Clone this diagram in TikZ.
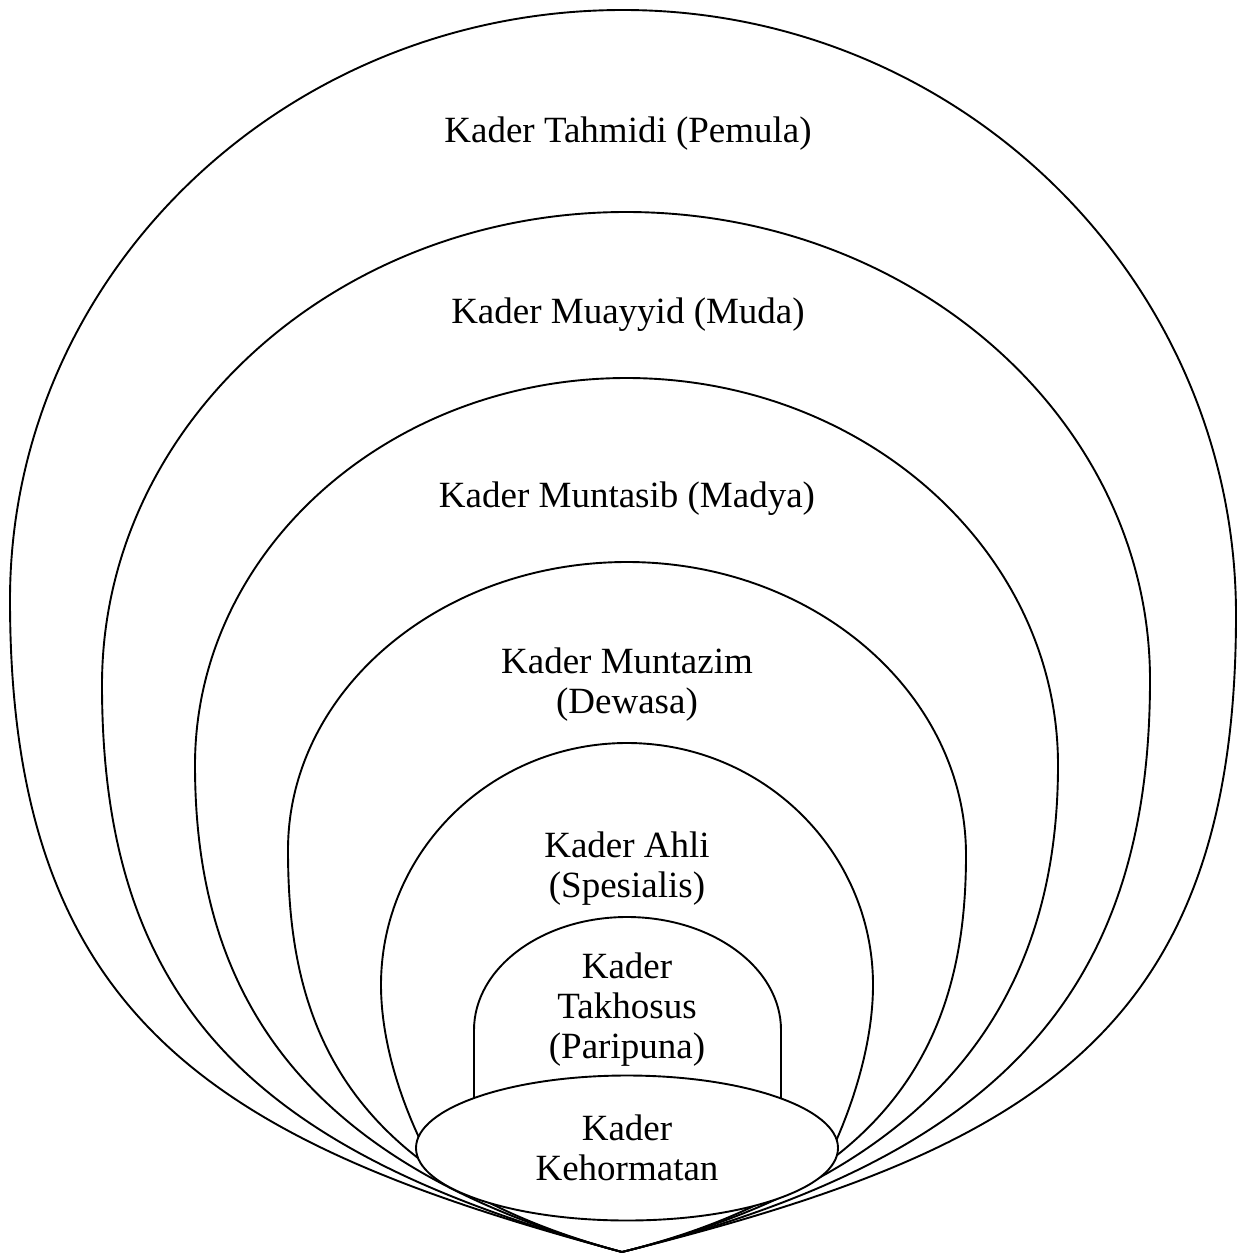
\documentclass[tikz,border=0pt]{standalone}
\usepackage{fontspec}
\setmainfont{Liberation Serif}
\usetikzlibrary{shapes.geometric}
\begin{document}
\begin{tikzpicture}[x=1pt,y=-1pt,
  ring/.style={draw=black,line width=1.9pt},
  lbl/.style={font=\fontsize{37}{40}\selectfont,align=center,inner sep=0pt}]
\useasboundingbox (0,0) rectangle (1240,1255);
% common lower tip of the nested egg shapes
\coordinate (B) at (622,1252);
% outer levels: left extreme, right extreme, top,
% left handle lengths (side, tip), right handle lengths (side, tip)
\foreach \xl/\yl/\xr/\yr/\t/\a/\b/\c/\d in {
    10/600/1236/615/10/420/420/420/420,
    102/685/1150/680/212/320/380/320/380,
    195/765/1058/765/378/200/360/200/360,
    288/850/966/855/562/160/300/160/300}{
  \pgfmathsetmacro\cx{(\xl+\xr)/2}
  \draw[ring] (B) .. controls ({622-0.966*\b},{1252-0.259*\b}) and (\xl,{\yl+\a}) .. (\xl,\yl)
    .. controls (\xl,{\yl-0.552*(\yl-\t)}) and ({\cx-0.552*(\cx-\xl)},\t) .. (\cx,\t)
    .. controls ({\cx+0.552*(\xr-\cx)},\t) and (\xr,{\yr-0.552*(\yr-\t)}) .. (\xr,\yr)
    .. controls (\xr,{\yr+\c}) and ({622+0.970*\d},{1252-0.242*\d}) .. (B);
}
% Ahli level, resting on the ellipse
\draw[ring] (425,1150) .. controls (400,1100) and (381,1040) .. (381,985)
  .. controls (381,{985-0.552*242}) and ({627-0.552*246},743) .. (627,743)
  .. controls ({627+0.552*246},743) and (873,{985-0.552*242}) .. (873,985)
  .. controls (873,1040) and (855,1100) .. (832,1150);
% Takhosus level: arch with straight sides
\draw[ring] (474,1115) -- (474,1030)
  .. controls (474,{1030-0.552*113}) and ({627-0.552*153},917) .. (627,917)
  .. controls ({627+0.552*154},917) and (781,{1030-0.552*113}) .. (781,1030)
  -- (781,1115);
% innermost level
\node[ellipse,ring,fill=white,minimum width=422pt,minimum height=145pt,lbl] (keh) at (627,1148) {Kader\\Kehormatan};
% level names
\node[lbl] (tahmidi) at (628,134) {Kader Tahmidi (Pemula)};
\node[lbl] (muayyid) at (628,315) {Kader Muayyid (Muda)};
\node[lbl] (muntasib) at (627,499) {Kader Muntasib (Madya)};
\node[lbl] (muntazim) at (627,685) {Kader Muntazim\\(Dewasa)};
\node[lbl] (ahli) at (627,869) {Kader Ahli\\(Spesialis)};
\node[lbl] (takhosus) at (627,1010) {Kader\\Takhosus\\(Paripuna)};
\end{tikzpicture}
\end{document}
